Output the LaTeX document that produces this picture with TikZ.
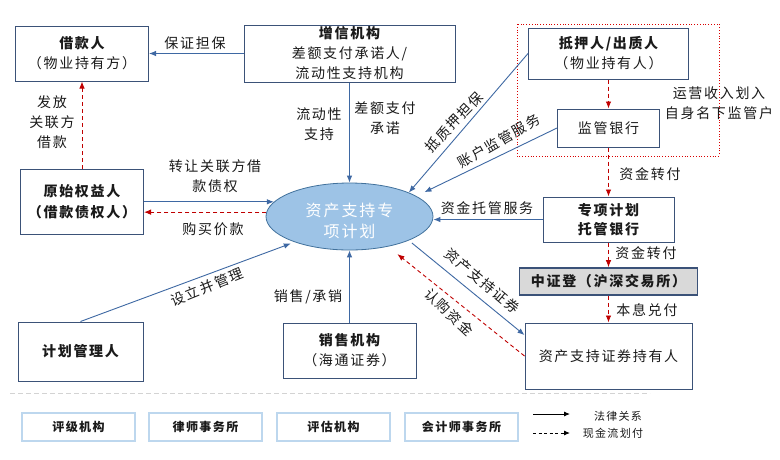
\documentclass[tikz,border=0pt]{standalone}
\usepackage{fontspec}
\setmainfont{Noto Sans CJK SC}[LetterSpace=12]
\usetikzlibrary{arrows.meta,shapes.geometric}
\definecolor{boxc}{HTML}{3B5278}
\definecolor{arrc}{HTML}{3E68A3}
\definecolor{redc}{HTML}{C00000}
\definecolor{ellfill}{HTML}{9DC3E6}
\definecolor{ellbord}{HTML}{41719C}
\definecolor{grayfill}{HTML}{D9D9D9}
\definecolor{lightb}{HTML}{BDD7EE}
\definecolor{sepc}{HTML}{D3D3D3}
\definecolor{txt}{HTML}{1A1A1A}
\newcommand\fsz[2]{\fontsize{#1}{#2}\selectfont}
\begin{document}
\begin{tikzpicture}[x=1pt,y=-1pt,
  box/.style={draw=boxc, line width=1pt, fill=white, align=center, inner sep=0pt, font=\fsz{14}{20}, text=txt},
  botbox/.style={draw=lightb, line width=2.5pt, fill=white, align=center, inner sep=0pt, font=\fsz{12}{16}\bfseries, text=txt, minimum width=113, minimum height=28},
  ell/.style={ellipse, draw=ellbord, line width=0.8pt, fill=ellfill, inner sep=0pt},
  elltext/.style={align=center, inner sep=0pt, font=\fsz{16}{21}, text=white},
  lab/.style={font=\fsz{14}{19.5}, text=txt, align=center, inner sep=0pt},
  legt/.style={font=\fsz{11}{14}, text=txt, inner sep=0pt},
  arr/.style={draw=arrc, line width=0.9pt, -{Latex[length=7pt,width=5.5pt]}},
  rarr/.style={draw=redc, line width=0.9pt, dashed, dash pattern=on 4pt off 3pt, -{Latex[length=7pt,width=5.5pt]}},
]
\useasboundingbox (0,0) rectangle (780,459);
\fill[white] (0,0) rectangle (780,459);

% red dotted frame
\draw[draw=red!85!black, line width=0.8pt, dotted] (517,24) rectangle (719,156);

% separator
\draw[sepc, line width=1pt, dash pattern=on 5pt off 3pt] (10,393) -- (650,393);

% nodes
\node[box, minimum width=133, minimum height=55] (jkr) at (82,53.5) {{\bfseries 借款人}\\（物业持有方）};
\node[box, minimum width=211, minimum height=57] (zx) at (349.5,53.5) {{\bfseries 增信机构}\\差额支付承诺人/\\流动性支持机构};
\node[box, minimum width=160, minimum height=51] (dy) at (608.5,53.5) {{\bfseries 抵押人/出质人}\\（物业持有人）};
\node[box, minimum width=102, minimum height=38] (jg) at (608.5,128) {监管银行};
\node[box, minimum width=131, minimum height=45, font=\fsz{14}{19.5}\bfseries] (tg) at (608.5,219.5) {专项计划\\托管银行};
\node[box, minimum width=178, minimum height=27, fill=grayfill, line width=1.6pt, font=\fsz{14}{19}\bfseries] (zzd) at (608.5,281.5) {中证登（沪深交易所）};
\node[box, minimum width=167, minimum height=66] (cyr) at (608.5,356) {资产支持证券持有人};
\node[box, minimum width=123, minimum height=65, font=\fsz{14}{21}\bfseries] (ysq) at (82,201.5) {原始权益人\\（借款债权人）};
\node[box, minimum width=125, minimum height=59, font=\fsz{14}{20}\bfseries] (jh) at (80.5,351.5) {计划管理人};
\node[box, minimum width=133, minimum height=55] (xs) at (349.5,350.5) {{\bfseries 销售机构}\\（海通证券）};
\node[ell, minimum width=167, minimum height=67] (e) at (349.5,216.5) {};
\node[elltext] (et) at (349.5,221) {资产支持专\\项计划};

\node[botbox] (pj) at (78.5,427) {评级机构};
\node[botbox] (ls) at (205.5,427) {律师事务所};
\node[botbox] (pg) at (333.5,427) {评估机构};
\node[botbox] (kj) at (461.5,427) {会计师事务所};

% connectors
\draw[arr] (zx.west) -- (jkr.east);
\draw[rarr] (ysq.north) -- (jkr.south);
\draw[arr] (e.169 -| ysq.east) -- (e.169);
\draw[rarr] (e.177) -- (e.177 -| ysq.east);
\draw[arr] (zx.south) -- (e.north);
\draw[arr] (dy.west) -- (e.22);
\draw[arr, shorten >=9pt] (jg.west) -- (e.17);
\draw[rarr] (dy.south) -- (jg.north);
\draw[rarr] (jg.south) -- (tg.north);
\draw[arr] (tg.west) -- (tg.west -| e.east);
\draw[rarr] (tg.south) -- (zzd.north);
\draw[rarr] (zzd.south) -- (cyr.north);
\draw[arr, shorten <=4pt] (e.-22) -- (cyr.166);
\draw[rarr, shorten >=12pt] (cyr.west) -- (e.-38);
\draw[arr, shorten >=4pt] (jh.north) -- (e.205);
\draw[arr] (xs.north) -- (e.south);

% labels
\node[lab] (l1) at (195,43) {保证担保};
\node[lab, font=\fsz{14}{20}] (l2) at (52,122.5) {发放\\关联方\\借款};
\node[lab] (l3) at (215,176) {转让关联方借\\款债权};
\node[lab] (l4) at (213,229) {购买价款};
\node[lab] (l5) at (319,124) {流动性\\支持};
\node[lab] (l6) at (385,118) {差额支付\\承诺};
\node[lab, rotate=46] (l7) at (454,122) {抵质押担保};
\node[lab, rotate=30] (l8) at (499,141) {账户监管服务};
\node[lab, font=\fsz{14}{20}] (l9) at (719,103) {运营收入划入\\自身名下监管户};
\node[lab] (l10) at (650,174) {资金转付};
\node[lab] (l11) at (487,208) {资金托管服务};
\node[lab] (l12) at (646,253) {资金转付};
\node[lab] (l13) at (647,310) {本息兑付};
\node[lab, rotate=-40] (l14) at (482,281) {资产支持证券};
\node[lab, rotate=-43] (l15) at (449,312) {认购资金};
\node[lab, rotate=22] (l16) at (207,287) {设立并管理};
\node[lab] (l17) at (308,297) {销售/承销};

% legend
\coordinate (la1) at (533,414);
\coordinate (la2) at (570,414);
\coordinate (lb1) at (533,433);
\coordinate (lb2) at (570,433);
\draw[black, line width=0.9pt, -{Latex[length=6pt,width=5pt]}] (la1) -- (la2);
\draw[black, line width=0.9pt, dash pattern=on 3pt off 2.5pt, -{Latex[length=6pt,width=5pt]}] (lb1) -- (lb2);
\node[legt] (lt1) at (618,416) {法律关系};
\node[legt] (lt2) at (613,433) {现金流划付};
\end{tikzpicture}
\end{document}
